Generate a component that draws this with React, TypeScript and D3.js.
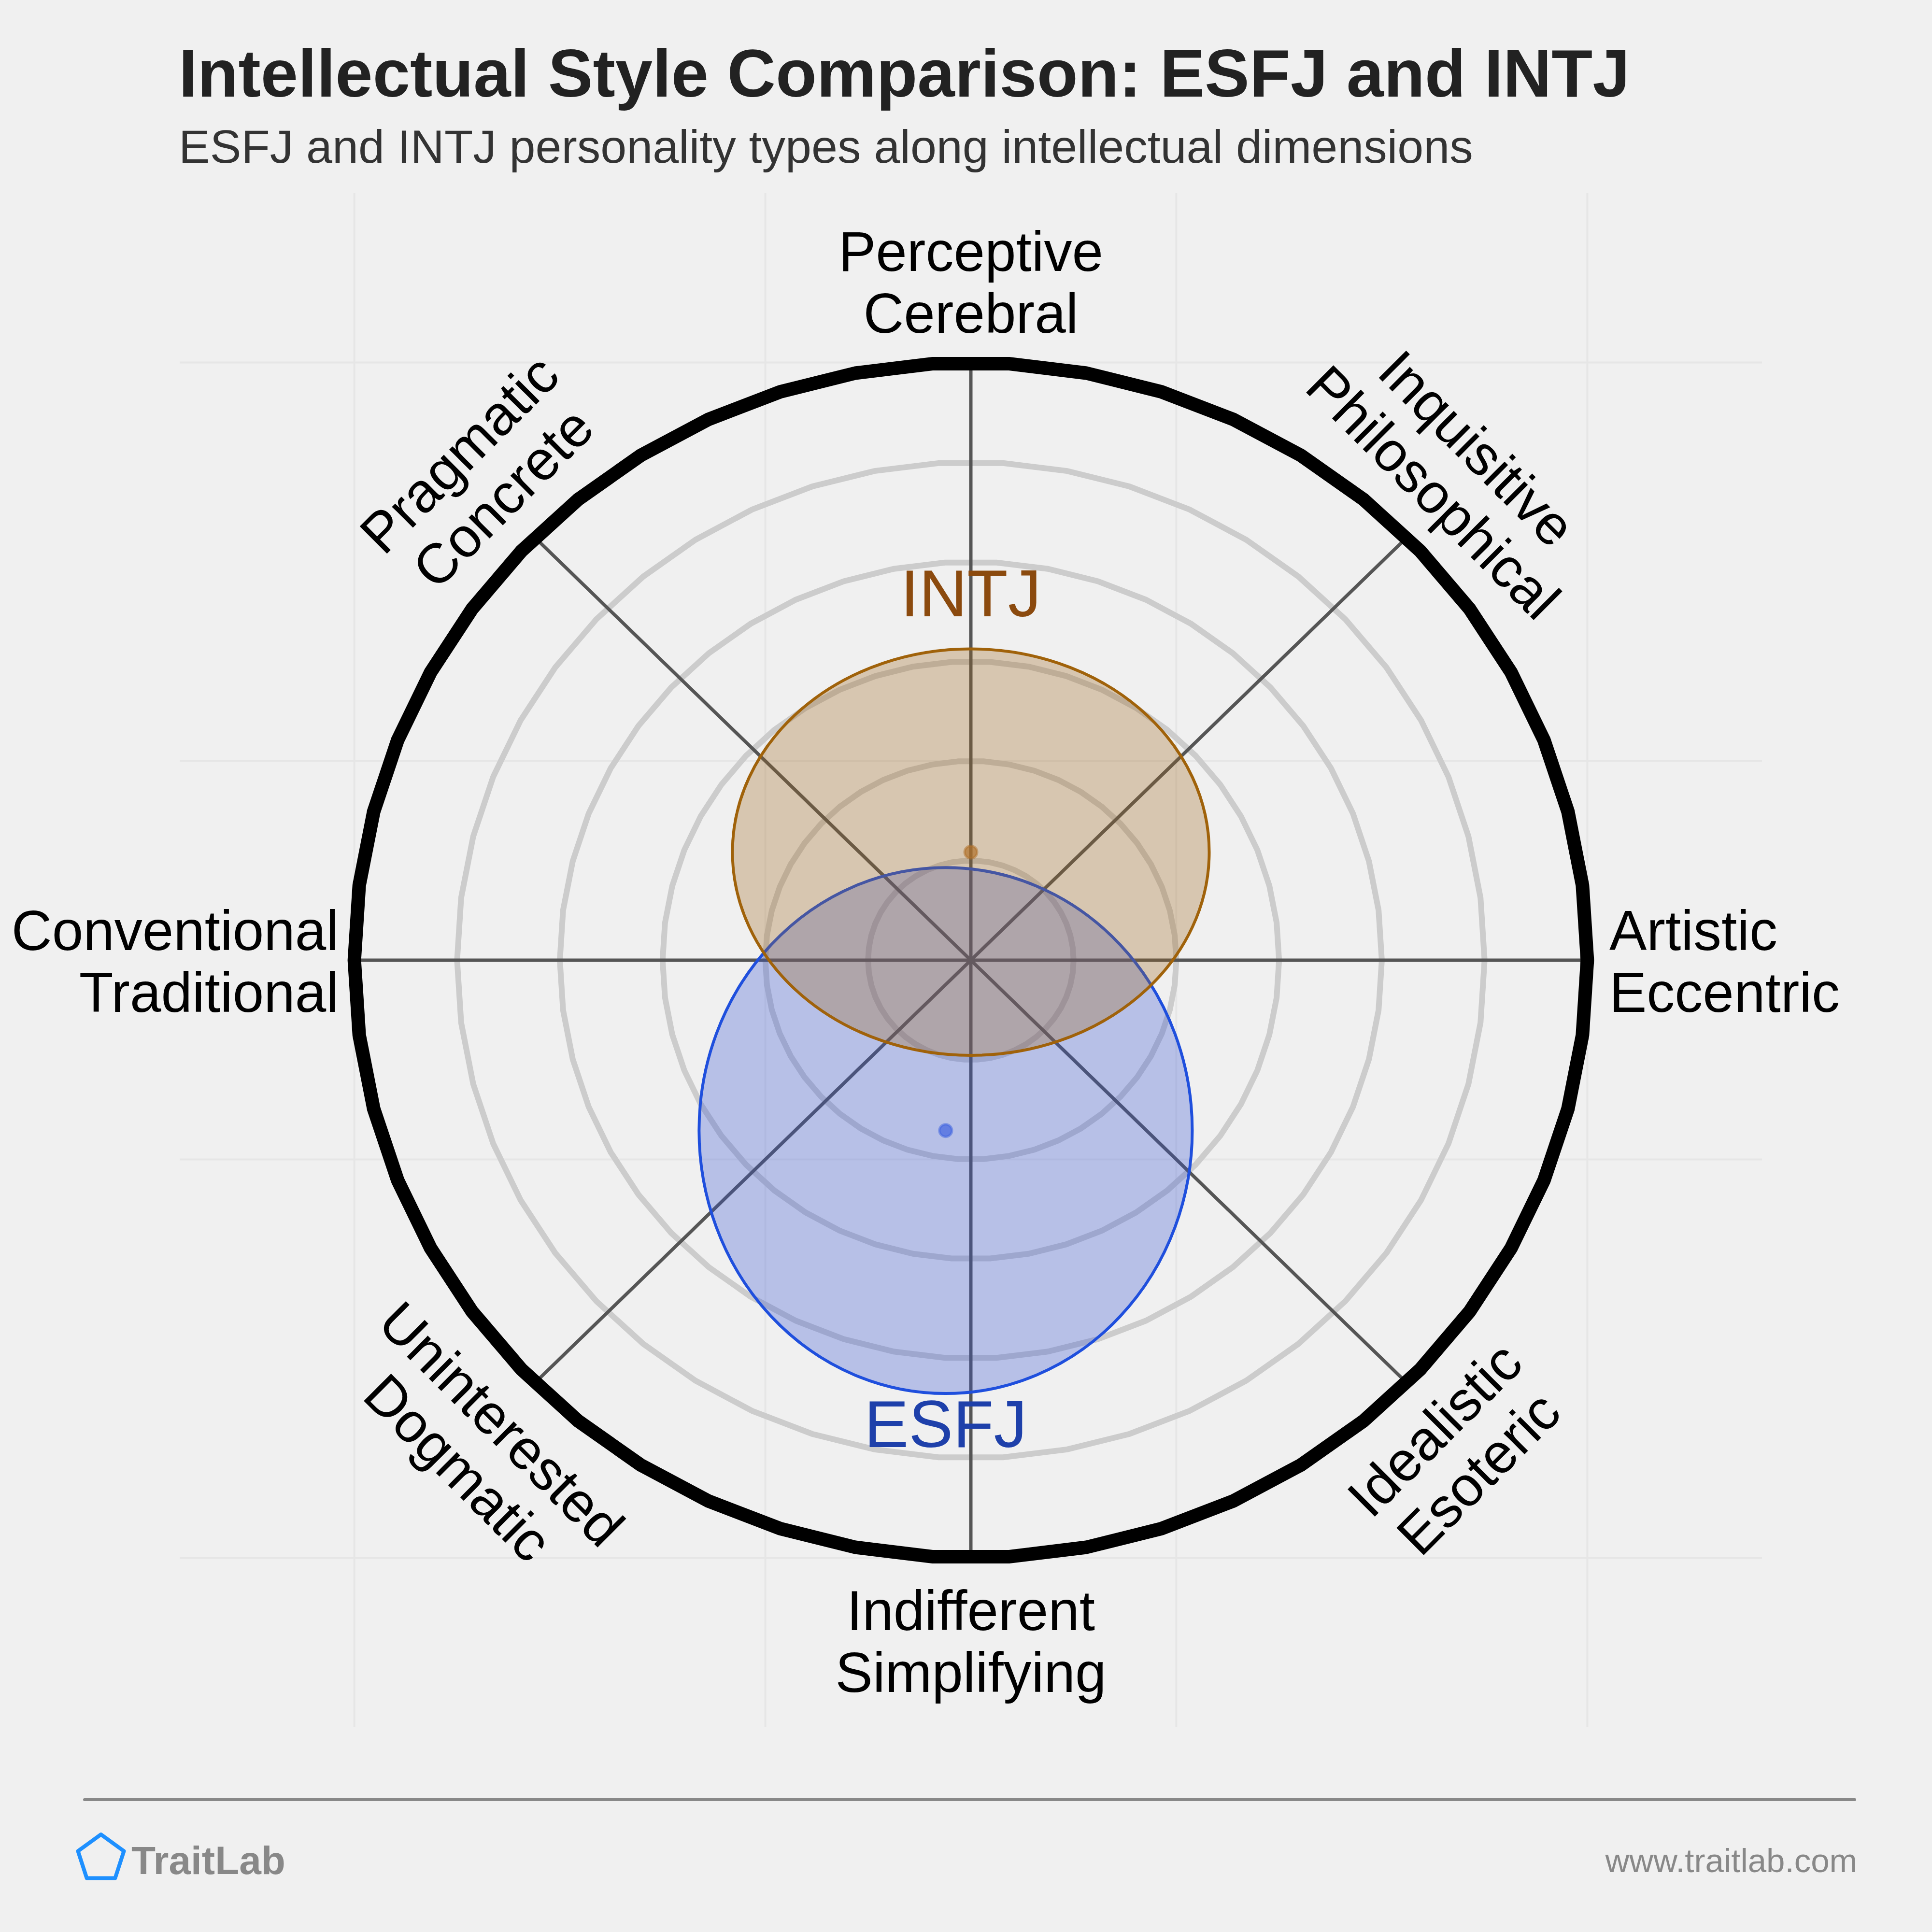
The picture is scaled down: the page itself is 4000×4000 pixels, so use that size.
import React from "react";
import * as d3 from "d3";

// ---- data ----
const axisAngles = [0, 45, 90, 135, 180, 225, 270, 315]; // degrees, counter-clockwise from right
const axisLine1 = ["Artistic", "Inquisitive", "Perceptive", "Pragmatic", "Conventional", "Uninterested", "Indifferent", "Idealistic"];
const axisLine2 = ["Eccentric", "Philosophical", "Cerebral", "Concrete", "Traditional", "Dogmatic", "Simplifying", "Esoteric"];
const ringLevels = [1, 2, 3, 4, 5];
const outerLevel = 6;
const gridTicks = [-6, -2, 2, 6];

const typeNames = ["ESFJ", "INTJ"];
const typeCenterX = [-0.245, 0.0];
const typeCenterY = [-1.71, 1.085];
const typeRadiusX = [2.4, 2.32];
const typeRadiusY = [2.64, 2.04];

const titleText = "Intellectual Style Comparison: ESFJ and INTJ";
const subtitleText = "ESFJ and INTJ personality types along intellectual dimensions";
const brandText = "TraitLab";
const urlText = "www.traitlab.com";

// ---- styles ----
const FONT = "'Liberation Sans', Arial, Helvetica, sans-serif";
const typeStyle = [
  { fill: "#3553D5", stroke: "#1F4FDD", text: "#1E40AA", dot: "#3F63E0" },
  { fill: "#A0661E", stroke: "#A0620A", text: "#8B4A0E", dot: "#B0702A" },
];

export default function App() {
  const W = 4000, H = 4000;
  const x = d3.scaleLinear().domain([-7.7, 7.7]).range([372, 3648]);
  const y = d3.scaleLinear().domain([-7.7, 7.7]).range([3576, 400]);
  const cx = x(0), cy = y(0);
  const rad = (d: number) => (d * Math.PI) / 180;

  const ringPath = (k: number) => {
    const pts: [number, number][] = d3.range(50).map((i) => {
      const a = rad(90 + 3.6 + 7.2 * i);
      return [x(k * Math.cos(a)), y(k * Math.sin(a))];
    });
    return d3.line().curve(d3.curveLinearClosed)(pts) || "";
  };

  // label placement
  const lineH = 128;
  const labelEls = axisAngles.map((ang, i) => {
    const l1 = axisLine1[i], l2 = axisLine2[i];
    const key = "lab" + i;
    if (ang === 0) {
      return (
        <text key={key} fontSize={116} fontFamily={FONT} fill="#000" textAnchor="start">
          <tspan x={cx + 1322} y={cy - 21}>{l1}</tspan>
          <tspan x={cx + 1322} y={cy - 21 + lineH}>{l2}</tspan>
        </text>
      );
    }
    if (ang === 180) {
      return (
        <text key={key} fontSize={116} fontFamily={FONT} fill="#000" textAnchor="end">
          <tspan x={cx - 1309} y={cy - 21}>{l1}</tspan>
          <tspan x={cx - 1309} y={cy - 21 + lineH}>{l2}</tspan>
        </text>
      );
    }
    if (ang === 90) {
      return (
        <text key={key} fontSize={116} fontFamily={FONT} fill="#000" textAnchor="middle">
          <tspan x={cx} y={cy - 1427}>{l1}</tspan>
          <tspan x={cx} y={cy - 1427 + lineH}>{l2}</tspan>
        </text>
      );
    }
    if (ang === 270) {
      return (
        <text key={key} fontSize={116} fontFamily={FONT} fill="#000" textAnchor="middle">
          <tspan x={cx} y={cy + 1387}>{l1}</tspan>
          <tspan x={cx} y={cy + 1387 + lineH}>{l2}</tspan>
        </text>
      );
    }
    const R = 1428;
    const px = cx + R * Math.cos(rad(ang));
    const py = cy - R * Math.sin(rad(ang));
    const rot = ang === 45 || ang === 225 ? 45 : -45;
    return (
      <text key={key} fontSize={116} fontFamily={FONT} fill="#000" textAnchor="middle"
        transform={`translate(${px},${py}) rotate(${rot})`}>
        <tspan x={-8} y={-22}>{l1}</tspan>
        <tspan x={-8} y={-22 + lineH}>{l2}</tspan>
      </text>
    );
  });

  // pentagon logo
  const logoCx = 209, logoCy = 3848, logoR = 50;
  const pent = d3.range(5).map((i) => {
    const a = rad(-90 + 72 * i);
    return [logoCx + logoR * Math.cos(a), logoCy + logoR * Math.sin(a)];
  });
  const pentPath = "M" + pent.map((p) => p.join(",")).join("L") + "Z";

  return (
    <svg width={W} height={H} style={{ position: "absolute", left: 0, top: 0 }}
      xmlns="http://www.w3.org/2000/svg">
      <rect x={0} y={0} width={W} height={H} fill="#F0F0F0" />

      {/* faint cartesian grid */}
      {gridTicks.map((t) => (
        <line key={"gx" + t} x1={x(t)} x2={x(t)} y1={y(7.7)} y2={y(-7.7)} stroke="#E6E6E6" strokeWidth={4} />
      ))}
      {gridTicks.map((t) => (
        <line key={"gy" + t} y1={y(t)} y2={y(t)} x1={x(-7.7)} x2={x(7.7)} stroke="#E6E6E6" strokeWidth={4} />
      ))}

      {/* rings */}
      {ringLevels.map((k) => (
        <path key={"r" + k} d={ringPath(k)} fill="none" stroke="#CCCCCC" strokeWidth={12} />
      ))}

      {/* spokes */}
      {axisAngles.map((a) => (
        <line key={"s" + a} x1={cx} y1={cy}
          x2={x(outerLevel * Math.cos(rad(a)))} y2={y(outerLevel * Math.sin(rad(a)))}
          stroke="#555555" strokeWidth={7} />
      ))}

      <path d={ringPath(outerLevel)} fill="none" stroke="#000" strokeWidth={28} strokeLinejoin="round" />

      {/* type ellipses */}
      {typeNames.map((n, i) => (
        <ellipse key={"e" + n} cx={x(typeCenterX[i])} cy={y(typeCenterY[i])}
          rx={x(typeRadiusX[i]) - x(0)} ry={y(0) - y(typeRadiusY[i])}
          fill={typeStyle[i].fill} fillOpacity={0.3}
          stroke={typeStyle[i].stroke} strokeWidth={6} />
      ))}
      {typeNames.map((n, i) => (
        <circle key={"d" + n} cx={x(typeCenterX[i])} cy={y(typeCenterY[i])} r={13}
          fill={typeStyle[i].dot} fillOpacity={0.7} stroke={typeStyle[i].dot} strokeOpacity={0.5} strokeWidth={5} />
      ))}

      {/* type labels */}
      {typeNames.map((n, i) => {
        const above = typeCenterY[i] > 0;
        const ty = above
          ? y(typeCenterY[i] + typeRadiusY[i]) - 68
          : y(typeCenterY[i] - typeRadiusY[i]) + 111;
        return (
          <text key={"t" + n} x={x(typeCenterX[i])} y={ty} textAnchor="middle"
            fontSize={138} fontFamily={FONT} fill={typeStyle[i].text}>{n}</text>
        );
      })}

      {labelEls}

      {/* titles */}
      <text x={370} y={200} fontSize={139} fontWeight="bold" fontFamily={FONT} fill="#222">{titleText}</text>
      <text x={370} y={337} fontSize={97} fontFamily={FONT} fill="#333">{subtitleText}</text>

      {/* footer */}
      <line x1={175} x2={3840} y1={3726} y2={3726} stroke="#888" strokeWidth={6} strokeLinecap="round" />
      <path d={pentPath} fill="none" stroke="#1E90FF" strokeWidth={8} strokeLinejoin="round" />
      <text x={272} y={3880} fontSize={82} fontWeight="bold" fontFamily={FONT} fill="#888">{brandText}</text>
      <text x={3845} y={3876} fontSize={69} fontFamily={FONT} fill="#888" textAnchor="end">{urlText}</text>
    </svg>
  );
}
